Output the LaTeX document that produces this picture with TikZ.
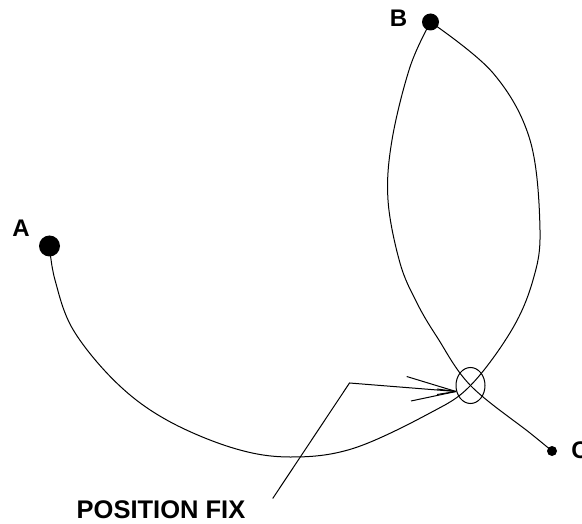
\documentclass[tikz,border=0pt]{standalone}
\usepackage{fontspec}
\setmainfont{Liberation Sans}
\usetikzlibrary{shapes.geometric}
\begin{document}
\begin{tikzpicture}[x=1pt,y=-1pt,
  line width=1pt,
  station/.style={circle,fill=black,inner sep=0pt},
  lbl/.style={font=\fontsize{24}{26}\selectfont\bfseries,inner sep=0pt},
  caption/.style={font=\fontsize{25.5}{28}\selectfont\bfseries,inner sep=0pt},
  fixmark/.style={ellipse,draw,line width=1pt,minimum width=29pt,minimum height=36pt,inner sep=0pt}]
\useasboundingbox (0,0) rectangle (582,524);
% stations
\node[station,minimum size=21pt] (A) at (49.5,246) {};
\node[station,minimum size=17pt] (B) at (430.5,22) {};
\node[station,minimum size=10pt] (C) at (552,451) {};
\node[lbl] (lA) at (21,228.5) {A};
\node[lbl] (lB) at (398.5,18.5) {B};
\node[lbl] (lC) at (580,450) {C};
% fix
\node[fixmark] (fix) at (470.5,385.5) {};
% range arcs
\draw plot[smooth,tension=0.6] coordinates {(A) (55,280) (73.3,330) (116.7,383) (166.7,420) (233,448) (290,457) (353,448.5) (430,413) (fix.center) (511.7,330) (533,280) (540,230) (530,140) (493,73) (B)};
\draw plot[smooth,tension=0.6] coordinates {(B) (410,67) (392,140) (388,200) (400,263) (417,303) (437,337) (fix.center) (530,433) (C)};
% pointer
\node[caption] (cap) at (161,510) {POSITION FIX};
\coordinate (tail) at (272.7,498.5);
\coordinate (bend) at (349.5,383);
\coordinate (tip) at (456,391.5);
\draw (tail) -- (bend) -- (tip);
\coordinate (f1) at (406.7,376.5);
\coordinate (f2) at (411,401);
\coordinate (f3) at (437,389);
\coordinate (f4) at (437,394.5);
\draw (f1) -- (tip);
\draw (f2) -- (tip);
\draw (f3) -- (tip);
\draw (f4) -- (tip);
\end{tikzpicture}
\end{document}
